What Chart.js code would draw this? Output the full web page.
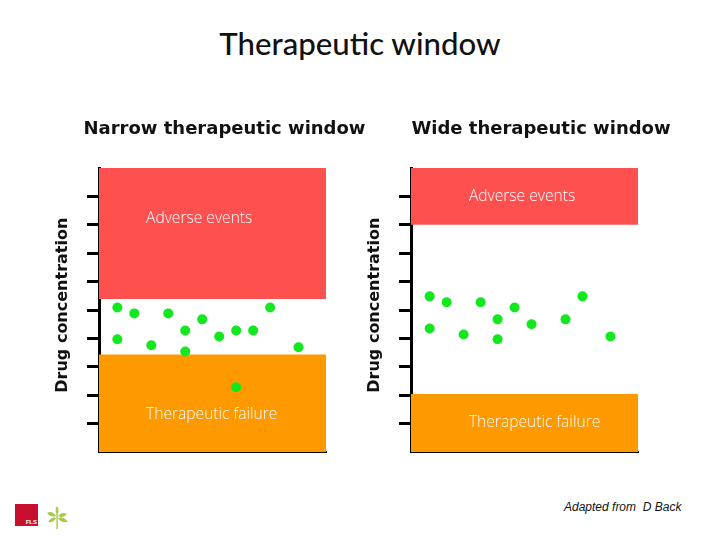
<!DOCTYPE html>
<html><head><meta charset="utf-8">
<style>
html,body{margin:0;padding:0;background:#fff;width:720px;height:540px;overflow:hidden}
canvas{position:absolute}
.t{position:absolute;white-space:nowrap}
#main{left:0;width:720px;top:24px;text-align:center;font:500 31.2px/38px Lato,sans-serif;color:#111}
#credit{left:564px;top:500px;font:italic 12px/15px "Liberation Sans",sans-serif;color:#111}
#fls{left:15px;top:504px;width:23px;height:22px;background:#c8102e;color:#fff;font:bold 6px/6px "Liberation Sans",sans-serif;text-align:right}
#fls span{position:absolute;right:1px;bottom:1px}
#leaf{position:absolute;left:46px;top:502px}
</style></head><body>
<div class="t" id="main">Therapeutic window</div>
<canvas id="left" width="369" height="350" style="left:40px;top:110px;width:369px;height:350px"></canvas>
<canvas id="right" width="360" height="350" style="left:361px;top:110px;width:360px;height:350px"></canvas>
<div class="t" id="credit">Adapted from&nbsp; D Back</div>
<div class="t" id="fls"><span>FLS</span></div>
<svg id="leaf" width="24" height="28" viewBox="0 0 24 28"><path d="M11 4 Q8 9 11 12 Q14 9 11 4ZM1 11 Q6 8 10 14 Q5 16 1 11ZM21 12 Q16 9 12 14 Q17 17 21 12ZM2 20 Q6 14 10 16 Q8 21 2 20ZM22 20 Q18 14 12 16 Q14 21 22 20Z" fill="#a9c84c"/><rect x="10.4" y="8" width="1.4" height="19" fill="#a9c84c"/></svg>
<script src="https://cdn.jsdelivr.net/npm/chart.js@4/dist/chart.umd.js"></script>
<script>
const axisMaxX = 13.37;
const axisMaxY = 10;
const axisTitle = "Drug concentration";
const adverseLabel = "Adverse events";
const failureLabel = "Therapeutic failure";

const narrowTitle = "Narrow therapeutic window";
const narrowAdverseFrom = 5.39;
const narrowFailureTo = 3.43;
const narrowX = [1.08,2.08,4.08,5.08,6.08,8.08,9.08,10.08,1.08,3.08,5.08,7.08,11.75,8.08];
const narrowY = [5.09,4.88,4.88,4.28,4.67,4.28,4.28,5.09,3.97,3.76,3.54,4.07,3.69,2.28];

const wideTitle = "Wide therapeutic window";
const wideAdverseFrom = 8.0;
const wideFailureTo = 2.04;
const wideX = [1.1,2.1,4.1,5.1,6.1,7.1,9.1,10.1,1.1,3.1,5.1,11.75];
const wideY = [5.48,5.27,5.27,4.67,5.09,4.50,4.67,5.48,4.35,4.14,3.97,4.07];

const labelPlugin = {
  id: 'labels',
  afterDatasetsDraw(chart, args, o) {
    const c = chart.ctx, sx = chart.scales.x, sy = chart.scales.y;
    c.save();
    c.textBaseline = 'middle';
    o.items.forEach(it => {
      c.fillStyle = '#fff';
      c.font = '300 15.6px "Open Sans"';
      c.textAlign = 'left';
      c.fillText(it.text, sx.getPixelForValue(it.x), sy.getPixelForValue(it.y));
    });
    c.restore();
    c.save();
    c.translate(sx.left + o.titleDx, sy.getPixelForValue(o.titleY));
    c.rotate(-Math.PI/2);
    c.textAlign = 'center'; c.textBaseline = 'middle';
    c.fillStyle = '#111';
    c.font = 'bold 16px "DejaVu Sans"';
    c.fillText(axisTitle, 0, 0);
    c.restore();
  }
};

function build(id, title, xs, ys, adverseFrom, failureTo, rightW, leftW, items) {
  const band = (v, fill, color) => ({type:'line', data:[{x:0,y:v},{x:axisMaxX,y:v}], fill, backgroundColor:color, borderWidth:0, pointRadius:0, order:2});
  new Chart(document.getElementById(id), {
    data:{datasets:[
      {type:'scatter', data:xs.map((x,i)=>({x,y:ys[i]})), backgroundColor:'#12e81e', borderWidth:0, pointRadius:5, order:1},
      band(adverseFrom,'end','#ff5050'),
      band(failureTo,'start','#ff9900')
    ]},
    options:{
      responsive:false, animation:false, events:[],
      layout:{padding:{left:0,right:0,top:0,bottom:8}},
      plugins:{
        legend:{display:false}, tooltip:{enabled:false},
        title:{display:true,text:title,color:'#111',font:{family:'"DejaVu Sans"',size:18,weight:'bold',lineHeight:1},padding:{top:10,bottom:30}},
        labels:{items,titleDx:-36,titleY:5.17}
      },
      scales:{
        x:{type:'linear',min:0,max:axisMaxX,display:true,
           ticks:{display:false},grid:{display:false,drawTicks:false},
           border:{display:true,color:'#000',width:2},
           afterFit(s){s.height=0;}},
        y:{type:'linear',min:0,max:axisMaxY,
           ticks:{display:false,stepSize:1},
           grid:{drawOnChartArea:false,drawTicks:true,tickLength:12,tickWidth:3,
                 tickColor:c=>(c.tick.value>0&&c.tick.value<axisMaxY)?'#000':'rgba(0,0,0,0)'},
           border:{display:true,color:'#000',width:3},
           afterFit(s){s.width=leftW;}},
        spacer:{type:'linear',position:'right',min:0,max:axisMaxY,
           ticks:{display:false},grid:{display:false,drawTicks:false},
           border:{display:false},
           afterFit(s){s.width=rightW;}}
      }
    },
    plugins:[labelPlugin]
  });
}

build('left', narrowTitle, narrowX, narrowY, narrowAdverseFrom, narrowFailureTo, 83, 59,
  [{text:adverseLabel,x:2.77,y:8.23},{text:failureLabel,x:2.77,y:1.33}]);
build('right', wideTitle, wideX, wideY, wideAdverseFrom, wideFailureTo, 83, 50,
  [{text:adverseLabel,x:3.41,y:9.0},{text:failureLabel,x:3.41,y:1.05}]);
</script>
</body></html>
